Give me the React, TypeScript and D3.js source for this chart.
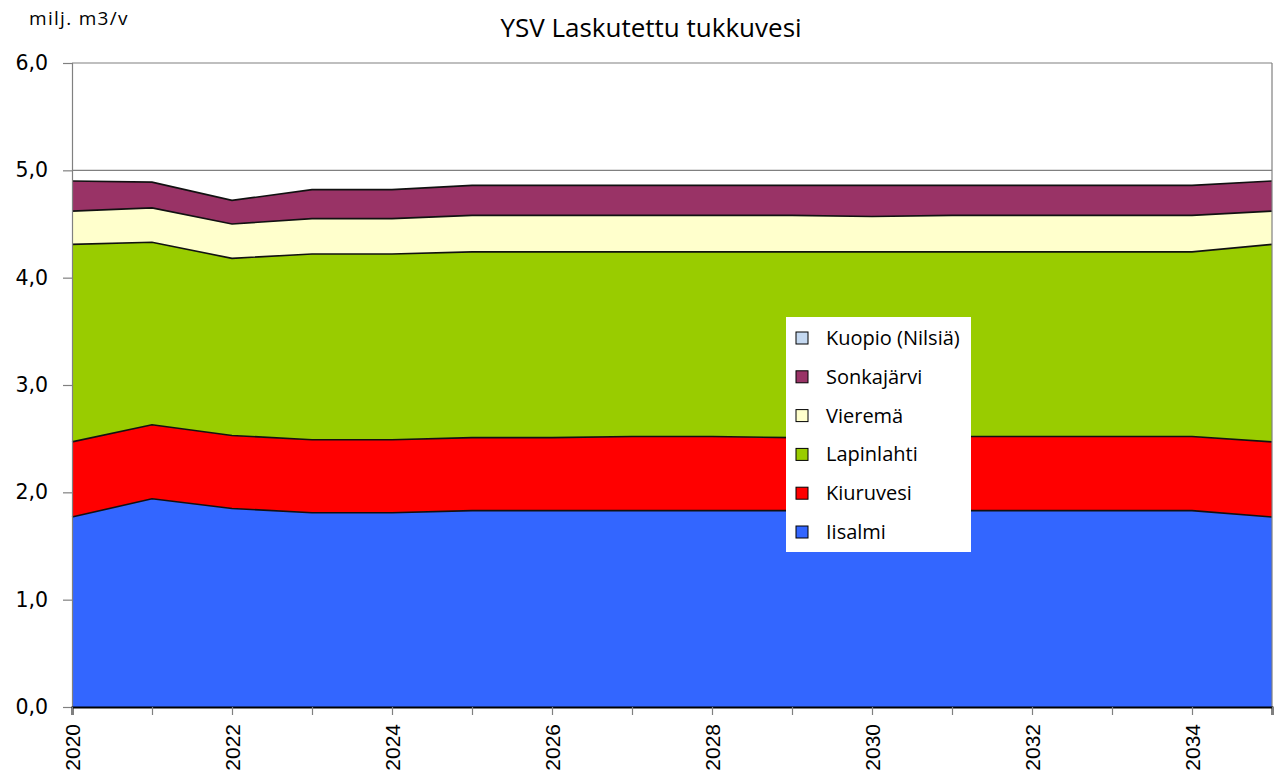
import React, { useEffect, useRef } from "react";
import * as d3 from "d3";

// vuodet ja kuntien osuudet (milj. m3/v)
const years = d3.range(2020, 2036);
const iisalmi = [1.77, 1.94, 1.85, 1.81, 1.81, 1.83, 1.83, 1.83, 1.83, 1.83, 1.83, 1.83, 1.83, 1.83, 1.83, 1.77];
const kiuruvesi = [0.7, 0.69, 0.68, 0.68, 0.68, 0.68, 0.68, 0.69, 0.69, 0.68, 0.68, 0.69, 0.69, 0.69, 0.69, 0.7];
const lapinlahti = [1.84, 1.7, 1.65, 1.73, 1.73, 1.73, 1.73, 1.72, 1.72, 1.73, 1.73, 1.72, 1.72, 1.72, 1.72, 1.84];
const vierema = [0.31, 0.32, 0.32, 0.33, 0.33, 0.34, 0.34, 0.34, 0.34, 0.34, 0.33, 0.34, 0.34, 0.34, 0.34, 0.31];
const sonkajarvi = [0.28, 0.24, 0.22, 0.27, 0.27, 0.28, 0.28, 0.28, 0.28, 0.28, 0.29, 0.28, 0.28, 0.28, 0.28, 0.28];
const kuopio = [0, 0, 0, 0, 0, 0, 0, 0, 0, 0, 0, 0, 0, 0, 0, 0];

const seriesNames = ["Iisalmi", "Kiuruvesi", "Lapinlahti", "Vieremä", "Sonkajärvi", "Kuopio (Nilsiä)"];
const seriesValues = [iisalmi, kiuruvesi, lapinlahti, vierema, sonkajarvi, kuopio];
const seriesColors = ["#3366FF", "#FF0000", "#99CC00", "#FFFFCC", "#993366", "#C5D9F1"];
const yTicks = [0, 1, 2, 3, 4, 5, 6];
const xLabelYears = [2020, 2022, 2024, 2026, 2028, 2030, 2032, 2034];

export default function App() {
  const ref = useRef<SVGSVGElement>(null);

  useEffect(() => {
    const width = 1281;
    const height = 776;
    const margin = { left: 72, top: 63, right: 9, bottom: 69 };
    const innerW = width - margin.left - margin.right;
    const innerH = height - margin.top - margin.bottom;

    const svg = d3.select(ref.current);
    svg.selectAll("*").remove();

    const table = years.map((y, i) => {
      const row: any = { year: y };
      seriesNames.forEach((n, k) => (row[n] = seriesValues[k][i]));
      return row;
    });
    const stacked = d3.stack().keys(seriesNames)(table);

    const x = d3.scaleLinear().domain([2020, 2035]).range([0, innerW]);
    const y = d3.scaleLinear().domain([0, 6]).range([innerH, 0]);

    const g = svg.append("g").attr("transform", `translate(${margin.left},${margin.top})`);

    // gridlines
    g.selectAll(".grid")
      .data(yTicks)
      .enter()
      .append("line")
      .attr("x1", 0)
      .attr("x2", innerW)
      .attr("y1", (d) => y(d))
      .attr("y2", (d) => y(d))
      .attr("stroke", "#808080")
      .attr("stroke-width", 1.2);

    const area = d3
      .area<any>()
      .x((d) => x(d.data.year))
      .y0((d) => y(d[0]))
      .y1((d) => y(d[1]));
    const topLine = d3
      .line<any>()
      .x((d) => x(d.data.year))
      .y((d) => y(d[1]));

    g.selectAll(".area")
      .data(stacked)
      .enter()
      .append("path")
      .attr("d", (d) => area(d as any))
      .attr("fill", (d, i) => seriesColors[i]);
    g.selectAll(".edge")
      .data(stacked.slice(0, 5))
      .enter()
      .append("path")
      .attr("d", (d) => topLine(d as any))
      .attr("fill", "none")
      .attr("stroke", "#111")
      .attr("stroke-width", 1.6);

    // right border
    g.append("line")
      .attr("x1", innerW)
      .attr("x2", innerW)
      .attr("y1", 0)
      .attr("y2", innerH)
      .attr("stroke", "#808080")
      .attr("stroke-width", 1.2);

    // y axis
    const yAxisG = g
      .append("g")
      .call(d3.axisLeft(y).tickValues(yTicks).tickSize(9).tickFormat((d) => d3.format(".1f")(d as number).replace(".", ",")));
    yAxisG.select(".domain").attr("stroke", "#808080").attr("stroke-width", 1.2);
    yAxisG.selectAll(".tick line").attr("stroke", "#808080").attr("stroke-width", 1.2);
    yAxisG
      .selectAll(".tick text")
      .attr("x", -24)
      .attr("fill", "#000")
      .style("font-family", "DejaVu Sans")
      .style("font-size", "20.5px");

    // x axis
    const xAxisG = g
      .append("g")
      .attr("transform", `translate(0,${innerH})`)
      .call(d3.axisBottom(x).tickValues(years).tickSize(8).tickFormat(() => ""));
    xAxisG.select(".domain").attr("stroke", "#000").attr("stroke-width", 2);
    xAxisG.selectAll(".tick line").attr("stroke", "#808080").attr("stroke-width", 1.2);
    g.selectAll(".xlab")
      .data(xLabelYears)
      .enter()
      .append("text")
      .attr("transform", (d) => `translate(${x(d) + 8},${innerH + 17}) rotate(-90)`)
      .attr("text-anchor", "end")
      .style("font-family", "Liberation Sans")
      .style("font-size", "21px")
      .text((d) => d);

    // titles
    svg
      .append("text")
      .attr("x", 651)
      .attr("y", 37)
      .attr("text-anchor", "middle")
      .style("font-family", "Open Sans")
      .style("font-size", "26px")
      .text("YSV Laskutettu tukkuvesi");
    svg
      .append("text")
      .attr("x", 29)
      .attr("y", 25)
      .style("font-family", "Open Sans")
      .style("font-size", "19px")
      .style("letter-spacing", "1.3px")
      .text("milj. m3/v");

    // legend
    const legend = svg.append("g").attr("transform", "translate(786,317)");
    legend.append("rect").attr("width", 185).attr("height", 235).attr("fill", "#fff");
    const order = [5, 4, 3, 2, 1, 0];
    const item = legend
      .selectAll(".item")
      .data(order)
      .enter()
      .append("g")
      .attr("transform", (d, i) => `translate(10,${21 + i * 38.8})`);
    item
      .append("rect")
      .attr("x", 0)
      .attr("y", -6)
      .attr("width", 12)
      .attr("height", 12)
      .attr("fill", (d) => seriesColors[d])
      .attr("stroke", "#000")
      .attr("stroke-width", 1);
    item
      .append("text")
      .attr("x", 30)
      .attr("y", 7)
      .style("font-family", "Open Sans")
      .style("font-size", "20px")
      .text((d) => seriesNames[d]);
  }, []);

  return <svg ref={ref} width={1281} height={776} style={{ position: "absolute", left: 0, top: 0 }} />;
}
